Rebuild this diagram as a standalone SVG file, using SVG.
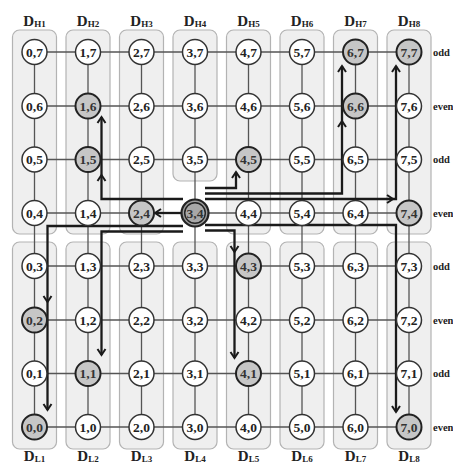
<svg xmlns="http://www.w3.org/2000/svg" xmlns:xlink="http://www.w3.org/1999/xlink" width="453" height="463" viewBox="0 0 453 463">
<style>
.pan{fill:#efefef;stroke:#b3b3b3;stroke-width:1.2}
.grid line{stroke:#555;stroke-width:1.3}
.n circle{fill:#fff;stroke:#333;stroke-width:1.5}
.g circle{fill:#c6c6c6;stroke:#222;stroke-width:2}
.n text,.g text{font-family:"Liberation Serif",serif;font-weight:bold;font-size:13.5px;text-anchor:middle;fill:#222}
.g text{fill:#333}
.lab{font-family:"Liberation Serif",serif;font-weight:bold;font-size:15px;text-anchor:middle;fill:#222}
.sub{font-size:9px}
.par{font-family:"Liberation Serif",serif;font-weight:bold;font-size:10.5px;fill:#222}
.p{fill:none;stroke:#1a1a1a;stroke-width:2.3;stroke-linejoin:miter}
.ah{fill:none;stroke:#1a1a1a;stroke-width:2}
</style>
<defs>
<path id="ah" d="M-6,-4 L0,0 L-6,4"/>
</defs>
<g id="panels">
<rect class="pan" x="12.5" y="30" width="44" height="204" rx="7"/>
<rect class="pan" x="66" y="30" width="44" height="204" rx="7"/>
<rect class="pan" x="119.5" y="30" width="44" height="204" rx="7"/>
<rect class="pan" x="173" y="30" width="44" height="151" rx="7"/>
<rect class="pan" x="226.5" y="30" width="44" height="204" rx="7"/>
<rect class="pan" x="280" y="30" width="44" height="204" rx="7"/>
<rect class="pan" x="333.5" y="30" width="44" height="204" rx="7"/>
<rect class="pan" x="387" y="30" width="44" height="204" rx="7"/>
<rect class="pan" x="12.5" y="242" width="44" height="207" rx="7"/>
<rect class="pan" x="66" y="242" width="44" height="207" rx="7"/>
<rect class="pan" x="119.5" y="242" width="44" height="207" rx="7"/>
<rect class="pan" x="173" y="242" width="44" height="207" rx="7"/>
<rect class="pan" x="226.5" y="242" width="44" height="207" rx="7"/>
<rect class="pan" x="280" y="242" width="44" height="207" rx="7"/>
<rect class="pan" x="333.5" y="242" width="44" height="207" rx="7"/>
<rect class="pan" x="387" y="242" width="44" height="207" rx="7"/>
</g>
<g id="labels">
<text class="lab" x="34.5" y="26">D<tspan class="sub" dy="1">H1</tspan></text>
<text class="lab" x="88" y="26">D<tspan class="sub" dy="1">H2</tspan></text>
<text class="lab" x="141.5" y="26">D<tspan class="sub" dy="1">H3</tspan></text>
<text class="lab" x="195" y="26">D<tspan class="sub" dy="1">H4</tspan></text>
<text class="lab" x="248.5" y="26">D<tspan class="sub" dy="1">H5</tspan></text>
<text class="lab" x="302" y="26">D<tspan class="sub" dy="1">H6</tspan></text>
<text class="lab" x="355.5" y="26">D<tspan class="sub" dy="1">H7</tspan></text>
<text class="lab" x="409" y="26">D<tspan class="sub" dy="1">H8</tspan></text>
<text class="lab" x="34.5" y="461">D<tspan class="sub" dy="1">L1</tspan></text>
<text class="lab" x="88" y="461">D<tspan class="sub" dy="1">L2</tspan></text>
<text class="lab" x="141.5" y="461">D<tspan class="sub" dy="1">L3</tspan></text>
<text class="lab" x="195" y="461">D<tspan class="sub" dy="1">L4</tspan></text>
<text class="lab" x="248.5" y="461">D<tspan class="sub" dy="1">L5</tspan></text>
<text class="lab" x="302" y="461">D<tspan class="sub" dy="1">L6</tspan></text>
<text class="lab" x="355.5" y="461">D<tspan class="sub" dy="1">L7</tspan></text>
<text class="lab" x="409" y="461">D<tspan class="sub" dy="1">L8</tspan></text>
<text class="par" x="433" y="55.5">odd</text>
<text class="par" x="433" y="109.5">even</text>
<text class="par" x="433" y="163">odd</text>
<text class="par" x="433" y="216.5">even</text>
<text class="par" x="433" y="269.5">odd</text>
<text class="par" x="433" y="323.5">even</text>
<text class="par" x="433" y="377">odd</text>
<text class="par" x="433" y="430.5">even</text>
</g>
<g id="grid" class="grid">
<line x1="34.5" y1="52" x2="409" y2="52"/>
<line x1="34.5" y1="106" x2="409" y2="106"/>
<line x1="34.5" y1="159.5" x2="409" y2="159.5"/>
<line x1="34.5" y1="213" x2="409" y2="213"/>
<line x1="34.5" y1="266" x2="409" y2="266"/>
<line x1="34.5" y1="320" x2="409" y2="320"/>
<line x1="34.5" y1="373.5" x2="409" y2="373.5"/>
<line x1="34.5" y1="427" x2="409" y2="427"/>
<line x1="34.5" y1="52" x2="34.5" y2="427"/>
<line x1="88" y1="52" x2="88" y2="427"/>
<line x1="141.5" y1="52" x2="141.5" y2="427"/>
<line x1="195" y1="52" x2="195" y2="427"/>
<line x1="248.5" y1="52" x2="248.5" y2="427"/>
<line x1="302" y1="52" x2="302" y2="427"/>
<line x1="355.5" y1="52" x2="355.5" y2="427"/>
<line x1="409" y1="52" x2="409" y2="427"/>
</g>
<g id="connectors">
<path class="p" d="M181,213 H156"/>
<path class="p" d="M183,199 H101.5 V117"/>
<path class="p" d="M205,188 H236 V172"/>
<path class="p" d="M205,193.5 H342 V66"/>
<path class="p" d="M205,199 H396 V66"/>
<path class="p" d="M205,225 H396 V412"/>
<path class="p" d="M205,230.5 H234.5 V358"/>
<path class="p" d="M183,226 H47.5 V410"/>
<path class="p" d="M183,231.5 H101.5 V355"/>
<g class="ah">
<use xlink:href="#ah" transform="translate(155,213) rotate(180)"/>
<use xlink:href="#ah" transform="translate(101.5,175) rotate(-90)"/>
<use xlink:href="#ah" transform="translate(101.5,117) rotate(-90)"/>
<use xlink:href="#ah" transform="translate(236,172) rotate(-90)"/>
<use xlink:href="#ah" transform="translate(342,121) rotate(-90)"/>
<use xlink:href="#ah" transform="translate(342,66) rotate(-90)"/>
<use xlink:href="#ah" transform="translate(393,199)"/>
<use xlink:href="#ah" transform="translate(396,66) rotate(-90)"/>
<use xlink:href="#ah" transform="translate(396,412) rotate(90)"/>
<use xlink:href="#ah" transform="translate(234.5,252) rotate(90)"/>
<use xlink:href="#ah" transform="translate(234.5,358) rotate(90)"/>
<use xlink:href="#ah" transform="translate(47.5,302) rotate(90)"/>
<use xlink:href="#ah" transform="translate(47.5,410) rotate(90)"/>
<use xlink:href="#ah" transform="translate(101.5,355) rotate(90)"/>
</g>
</g>
<g id="nodes">
<g id="n0_7" class="n"><circle cx="34.5" cy="52" r="12.5"/><text x="34.5" y="56.5">0,7</text></g>
<g id="n1_7" class="n"><circle cx="88" cy="52" r="12.5"/><text x="88" y="56.5">1,7</text></g>
<g id="n2_7" class="n"><circle cx="141.5" cy="52" r="12.5"/><text x="141.5" y="56.5">2,7</text></g>
<g id="n3_7" class="n"><circle cx="195" cy="52" r="12.5"/><text x="195" y="56.5">3,7</text></g>
<g id="n4_7" class="n"><circle cx="248.5" cy="52" r="12.5"/><text x="248.5" y="56.5">4,7</text></g>
<g id="n5_7" class="n"><circle cx="302" cy="52" r="12.5"/><text x="302" y="56.5">5,7</text></g>
<g id="n6_7" class="g"><circle cx="355.5" cy="52" r="12.5"/><text x="355.5" y="56.5">6,7</text></g>
<g id="n7_7" class="g"><circle cx="409" cy="52" r="12.5"/><text x="409" y="56.5">7,7</text></g>

<g id="n0_6" class="n"><circle cx="34.5" cy="106" r="12.5"/><text x="34.5" y="110.5">0,6</text></g>
<g id="n1_6" class="g"><circle cx="88" cy="106" r="12.5"/><text x="88" y="110.5">1,6</text></g>
<g id="n2_6" class="n"><circle cx="141.5" cy="106" r="12.5"/><text x="141.5" y="110.5">2,6</text></g>
<g id="n3_6" class="n"><circle cx="195" cy="106" r="12.5"/><text x="195" y="110.5">3,6</text></g>
<g id="n4_6" class="n"><circle cx="248.5" cy="106" r="12.5"/><text x="248.5" y="110.5">4,6</text></g>
<g id="n5_6" class="n"><circle cx="302" cy="106" r="12.5"/><text x="302" y="110.5">5,6</text></g>
<g id="n6_6" class="g"><circle cx="355.5" cy="106" r="12.5"/><text x="355.5" y="110.5">6,6</text></g>
<g id="n7_6" class="n"><circle cx="409" cy="106" r="12.5"/><text x="409" y="110.5">7,6</text></g>

<g id="n0_5" class="n"><circle cx="34.5" cy="159.5" r="12.5"/><text x="34.5" y="164">0,5</text></g>
<g id="n1_5" class="g"><circle cx="88" cy="159.5" r="12.5"/><text x="88" y="164">1,5</text></g>
<g id="n2_5" class="n"><circle cx="141.5" cy="159.5" r="12.5"/><text x="141.5" y="164">2,5</text></g>
<g id="n3_5" class="n"><circle cx="195" cy="159.5" r="12.5"/><text x="195" y="164">3,5</text></g>
<g id="n4_5" class="g"><circle cx="248.5" cy="159.5" r="12.5"/><text x="248.5" y="164">4,5</text></g>
<g id="n5_5" class="n"><circle cx="302" cy="159.5" r="12.5"/><text x="302" y="164">5,5</text></g>
<g id="n6_5" class="n"><circle cx="355.5" cy="159.5" r="12.5"/><text x="355.5" y="164">6,5</text></g>
<g id="n7_5" class="n"><circle cx="409" cy="159.5" r="12.5"/><text x="409" y="164">7,5</text></g>

<g id="n0_4" class="n"><circle cx="34.5" cy="213" r="12.5"/><text x="34.5" y="217.5">0,4</text></g>
<g id="n1_4" class="n"><circle cx="88" cy="213" r="12.5"/><text x="88" y="217.5">1,4</text></g>
<g id="n2_4" class="g"><circle cx="141.5" cy="213" r="12.5"/><text x="141.5" y="217.5">2,4</text></g>
<g id="n3_4" class="g"><circle cx="195" cy="213" r="13.5" style="fill:#9c9c9c;stroke-width:2.2"/><circle cx="195" cy="213" r="10.3" style="fill:#a8a8a8;stroke-width:1.4"/><text x="195" y="217.5">3,4</text></g>
<g id="n4_4" class="n"><circle cx="248.5" cy="213" r="12.5"/><text x="248.5" y="217.5">4,4</text></g>
<g id="n5_4" class="n"><circle cx="302" cy="213" r="12.5"/><text x="302" y="217.5">5,4</text></g>
<g id="n6_4" class="n"><circle cx="355.5" cy="213" r="12.5"/><text x="355.5" y="217.5">6,4</text></g>
<g id="n7_4" class="g"><circle cx="409" cy="213" r="12.5"/><text x="409" y="217.5">7,4</text></g>

<g id="n0_3" class="n"><circle cx="34.5" cy="266" r="12.5"/><text x="34.5" y="270.5">0,3</text></g>
<g id="n1_3" class="n"><circle cx="88" cy="266" r="12.5"/><text x="88" y="270.5">1,3</text></g>
<g id="n2_3" class="n"><circle cx="141.5" cy="266" r="12.5"/><text x="141.5" y="270.5">2,3</text></g>
<g id="n3_3" class="n"><circle cx="195" cy="266" r="12.5"/><text x="195" y="270.5">3,3</text></g>
<g id="n4_3" class="g"><circle cx="248.5" cy="266" r="12.5"/><text x="248.5" y="270.5">4,3</text></g>
<g id="n5_3" class="n"><circle cx="302" cy="266" r="12.5"/><text x="302" y="270.5">5,3</text></g>
<g id="n6_3" class="n"><circle cx="355.5" cy="266" r="12.5"/><text x="355.5" y="270.5">6,3</text></g>
<g id="n7_3" class="n"><circle cx="409" cy="266" r="12.5"/><text x="409" y="270.5">7,3</text></g>

<g id="n0_2" class="g"><circle cx="34.5" cy="320" r="12.5"/><text x="34.5" y="324.5">0,2</text></g>
<g id="n1_2" class="n"><circle cx="88" cy="320" r="12.5"/><text x="88" y="324.5">1,2</text></g>
<g id="n2_2" class="n"><circle cx="141.5" cy="320" r="12.5"/><text x="141.5" y="324.5">2,2</text></g>
<g id="n3_2" class="n"><circle cx="195" cy="320" r="12.5"/><text x="195" y="324.5">3,2</text></g>
<g id="n4_2" class="n"><circle cx="248.5" cy="320" r="12.5"/><text x="248.5" y="324.5">4,2</text></g>
<g id="n5_2" class="n"><circle cx="302" cy="320" r="12.5"/><text x="302" y="324.5">5,2</text></g>
<g id="n6_2" class="n"><circle cx="355.5" cy="320" r="12.5"/><text x="355.5" y="324.5">6,2</text></g>
<g id="n7_2" class="n"><circle cx="409" cy="320" r="12.5"/><text x="409" y="324.5">7,2</text></g>

<g id="n0_1" class="n"><circle cx="34.5" cy="373.5" r="12.5"/><text x="34.5" y="378">0,1</text></g>
<g id="n1_1" class="g"><circle cx="88" cy="373.5" r="12.5"/><text x="88" y="378">1,1</text></g>
<g id="n2_1" class="n"><circle cx="141.5" cy="373.5" r="12.5"/><text x="141.5" y="378">2,1</text></g>
<g id="n3_1" class="n"><circle cx="195" cy="373.5" r="12.5"/><text x="195" y="378">3,1</text></g>
<g id="n4_1" class="g"><circle cx="248.5" cy="373.5" r="12.5"/><text x="248.5" y="378">4,1</text></g>
<g id="n5_1" class="n"><circle cx="302" cy="373.5" r="12.5"/><text x="302" y="378">5,1</text></g>
<g id="n6_1" class="n"><circle cx="355.5" cy="373.5" r="12.5"/><text x="355.5" y="378">6,1</text></g>
<g id="n7_1" class="n"><circle cx="409" cy="373.5" r="12.5"/><text x="409" y="378">7,1</text></g>

<g id="n0_0" class="g"><circle cx="34.5" cy="427" r="12.5"/><text x="34.5" y="431.5">0,0</text></g>
<g id="n1_0" class="n"><circle cx="88" cy="427" r="12.5"/><text x="88" y="431.5">1,0</text></g>
<g id="n2_0" class="n"><circle cx="141.5" cy="427" r="12.5"/><text x="141.5" y="431.5">2,0</text></g>
<g id="n3_0" class="n"><circle cx="195" cy="427" r="12.5"/><text x="195" y="431.5">3,0</text></g>
<g id="n4_0" class="n"><circle cx="248.5" cy="427" r="12.5"/><text x="248.5" y="431.5">4,0</text></g>
<g id="n5_0" class="n"><circle cx="302" cy="427" r="12.5"/><text x="302" y="431.5">5,0</text></g>
<g id="n6_0" class="n"><circle cx="355.5" cy="427" r="12.5"/><text x="355.5" y="431.5">6,0</text></g>
<g id="n7_0" class="g"><circle cx="409" cy="427" r="12.5"/><text x="409" y="431.5">7,0</text></g>
</g>
</svg>
